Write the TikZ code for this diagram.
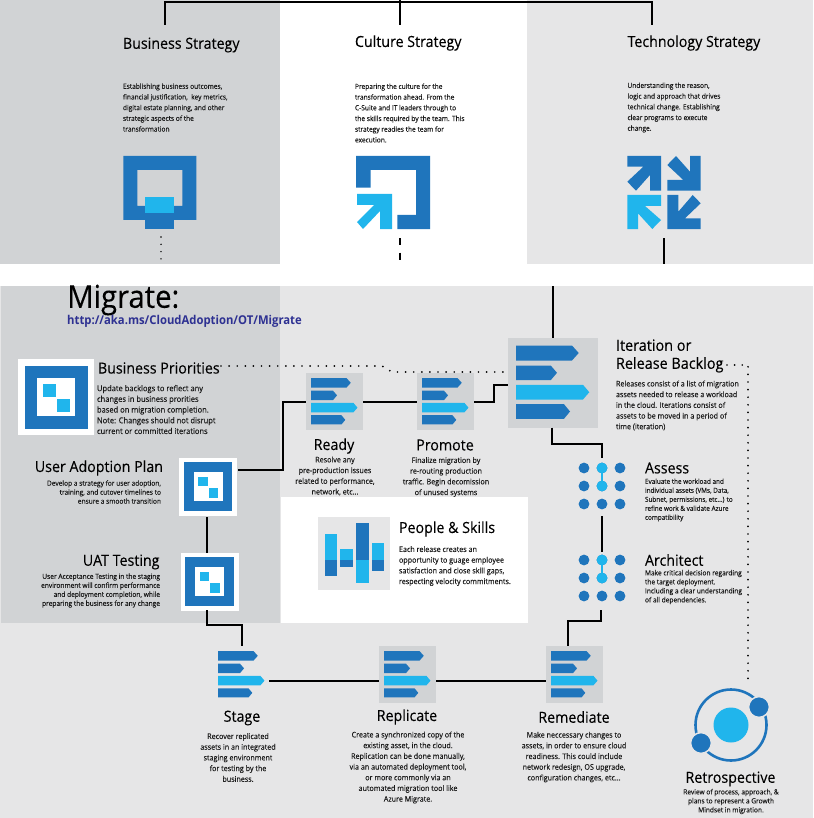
\documentclass[tikz,border=0pt]{standalone}
\usepackage{fontspec}
\setmainfont[FakeStretch=.93,FakeBold=.12]{Open Sans}
\newfontfamily\urlfont[FakeStretch=.93]{Open Sans}
\definecolor{dk}{HTML}{1F75BC}
\definecolor{lt}{HTML}{20B5EC}
\definecolor{pa}{HTML}{D1D3D5}
\definecolor{pb}{HTML}{E6E6E7}
\definecolor{urlc}{HTML}{2E3192}
\definecolor{bodyc}{HTML}{1A1A1A}
\newcommand\backlogicon[5]{% name, cx, cy, size, fill
  \node[minimum width=#4pt,minimum height=#4pt,inner sep=0pt,outer sep=0pt,fill=#5] (#1) at (#2,#3) {};
  \pgfmathsetmacro\bs{#4/90}
  \begin{scope}[shift={(#2,#3)},scale=\bs,shift={(-45,-45)}]
    \fill[dk] (8,8)--(64,8)--(70.7,15.5)--(64,23)--(8,23)--cycle;
    \fill[dk] (8,28)--(42.7,28)--(49,35.3)--(42.7,42.7)--(8,42.7)--cycle;
    \fill[lt] (8,47.3)--(75,47.3)--(81.3,54.7)--(75,62)--(8,62)--cycle;
    \fill[dk] (8,66.7)--(56,66.7)--(62,74)--(56,81.3)--(8,81.3)--cycle;
  \end{scope}}
\newcommand\priorityicon[4]{% name, cx, cy, white size
  \node[minimum size=#4pt,inner sep=0pt,outer sep=0pt,fill=white] (#1) at (#2,#3) {};
  \pgfmathsetmacro\bs{#4/76}
  \begin{scope}[shift={(#2,#3)},scale=\bs]
    \fill[dk] (-31.5,-31.5) rectangle (31.5,31.5);
    \fill[white] (-19,-19) rectangle (19,19);
    \fill[lt] (-13,-13) rectangle (-0.5,-0.5);
    \fill[lt] (1,2) rectangle (13.5,14.5);
  \end{scope}}
\newcommand\dotsicon[3]{% name, cx, cy
  \coordinate (#1) at (#2,#3);
  \begin{scope}[shift={(#2,#3)}]
    \foreach \i in {-18,0,18}{\foreach \j in {-18,0,18}{\fill[dk] (\i,\j) circle (5.4);}}
    \draw[lt,line width=1.6pt] (0,-18)--(0,0);
    \fill[lt] (0,-18) circle (5.4);
    \fill[lt] (0,0) circle (5.4);
  \end{scope}}
\tikzset{
  x=1pt,y=-1pt,
  conn/.style={line width=2pt,black,line join=miter},
  dotline/.style={line width=1.9pt,black,line cap=round,dash pattern=on 0pt off 7.6pt},
  title/.style={inner sep=0pt,outer sep=0pt,text=black,font=\fontsize{15.3}{17}\selectfont},
  body/.style={inner sep=0pt,outer sep=0pt,text=bodyc,font=\fontsize{7.1}{10.7}\selectfont},
  bodylg/.style={inner sep=0pt,outer sep=0pt,text=bodyc,font=\fontsize{7.7}{10.7}\selectfont},
  bodysm/.style={inner sep=0pt,outer sep=0pt,text=bodyc,font=\fontsize{7.1}{9}\selectfont},
}
\begin{document}
\begin{tikzpicture}
\useasboundingbox (0,0) rectangle (813,818);
% panels
\fill[white] (0,0) rectangle (813,818);
\fill[pa] (0,0) rectangle (280,264);
\fill[pb] (527,0) rectangle (813,264);
\fill[pb] (0,286) rectangle (813,818);
\fill[pa] (1,286) rectangle (280,623);
\fill[white] (281,497) rectangle (528,623);

% top icons
\fill[dk,even odd rule] (123.3,156) rectangle (196.3,220) (137.3,170) rectangle (182.3,206);
\fill[dk] (145.3,220) rectangle (173.7,229);
\fill[lt] (145.3,197.3) rectangle (173.7,212.7);
\fill[dk] (356,156)--(430,156)--(430,229)--(397.3,229)--(397.3,215)--(416,215)--(416,170)--(370.7,170)--(370.7,187.7)--(356,187.7)--cycle;
\fill[lt] (357,194)--(392,194)--(392,229)--(380,229)--(380,211)--(363,229)--(357,222)--(374,205)--(357,205)--cycle;
\fill[dk] (627.3,156)--(661,156)--(661,190.7)--(650,190.7)--(650,175)--(636,190.7)--(627.3,181.7)--(643.3,166.7)--(627.3,166.7)--cycle;
\fill[dk] (700.7,156)--(700.7,190.7)--(667.3,190.7)--(667.3,180)--(683.3,180)--(667.3,165)--(676,156)--(690,171.7)--(690,156)--cycle;
\fill[lt] (627.3,195)--(661,195)--(661,206)--(645,206)--(661,220)--(652.3,229)--(638,213.3)--(638,229)--(627.3,229)--cycle;
\fill[dk] (667.3,195)--(678.3,195)--(678.3,211.7)--(692.7,195)--(700.7,203.3)--(685,218.3)--(700.7,218.3)--(700.7,229)--(667.3,229)--cycle;

% top connectors
\coordinate (tl) at (165,2.5); \coordinate (tr) at (652,2.5);
\coordinate (tc) at (400,0); \coordinate (tcm) at (400,2.5);
\coordinate (bs) at (165,25); \coordinate (cs) at (400,25); \coordinate (ts) at (652,25);
\draw[conn] (bs)--(tl)--(tr)--(ts);
\draw[conn] (tc)--(cs);
\coordinate (bsa) at (161,237); \coordinate (bsb) at (161,262);
\draw[line width=1.6pt,line cap=round,dash pattern=on 0pt off 7.3pt] (bsa)--(bsb);
\coordinate (csa) at (400,238); \coordinate (csb) at (400,260);
\draw[line width=2pt,dash pattern=on 7pt off 7.5pt] (csa)--(csb);
\coordinate (tsa) at (664,238); \coordinate (tsb) at (664,264);
\draw[conn] (tsa)--(tsb);

% top texts
\node[title,anchor=west] (t1) at (123,45) {Business Strategy};
\node[title,anchor=west] (t2) at (355,43) {Culture Strategy};
\node[title,anchor=west] (t3) at (627.5,43) {Technology Strategy};
\node[body,anchor=west,align=left] (b1) at (123,107.5) {Establishing business outcomes,\\financial justification,\ \ key metrics,\\digital estate planning, and other\\strategic aspects of the\\transformation};
\node[body,anchor=west,align=left] (b2) at (355,113) {Preparing the culture for the\\transformation ahead. From the\\C-Suite and IT leaders through to\\the skills required by the team. This\\strategy readies the team for\\execution.};
\node[body,anchor=west,align=left] (b3) at (627.5,107.5) {Understanding the reason,\\logic and approach that drives\\technical change. Establishing\\clear programs to execute\\change.};

% Migrate heading
\node[inner sep=0pt,anchor=west,font=\fontsize{31.5}{34}\selectfont] (mig) at (67,300) {Migrate:};
\node[inner sep=0pt,anchor=west,text=urlc,font=\urlfont\bfseries\fontsize{12.15}{14}\selectfont] (url) at (67,321.5) {http://aka.ms/CloudAdoption/OT/Migrate};

% nodes of the migration loop
\backlogicon{ready}{334.5}{401.5}{57}{pa}
\backlogicon{promote}{445.5}{401.5}{57}{pa}
\backlogicon{backlog}{553}{382.5}{90}{pa}
\backlogicon{stage}{241.5}{674.5}{57}{pb}
\backlogicon{replicate}{407.5}{674.5}{57}{pa}
\backlogicon{remediate}{574.5}{674.5}{57}{pa}
\priorityicon{prio}{56}{397}{76}
\priorityicon{uap}{208}{486.5}{58}
\priorityicon{uat}{209.5}{581.5}{58}
\dotsicon{assess}{602}{486}
\dotsicon{architect}{602}{578}

% connectors
\coordinate (c1) at (238,470); \coordinate (c2) at (283,470); \coordinate (c3) at (283,402);
\draw[conn] (c1)--(c2)--(c3)--(ready.west |- c3);
\draw[conn] (ready.east |- c3)--(promote.west |- c3);
\coordinate (c4) at (494,402); \coordinate (c5) at (494,385);
\draw[conn] (promote.east |- c4)--(c4)--(c5)--(backlog.west |- c5);
\coordinate (c6) at (553,286);
\draw[conn] (c6)--(c6 |- backlog.north);
\coordinate (c7) at (552,443.5); \coordinate (c8) at (602,443.5); \coordinate (c9) at (602,458);
\draw[conn] (c7 |- backlog.south)--(c7)--(c8)--(c9);
\coordinate (c10) at (602,516); \coordinate (c11) at (602,552);
\draw[conn] (c10)--(c11);
\coordinate (c12) at (601,610); \coordinate (c13) at (601,620.5); \coordinate (c14) at (568,620.5);
\draw[conn] (c12)--(c13)--(c14)--(c14 |- remediate.north);
\coordinate (c15) at (207,517); \coordinate (c16) at (207,553);
\draw[conn] (c15)--(c16);
\coordinate (c17) at (207,610); \coordinate (c18) at (207,624.5); \coordinate (c19) at (242,624.5); \coordinate (c20) at (242,646);
\draw[conn] (c17)--(c18)--(c19)--(c20);
\coordinate (c21) at (269,681); \coordinate (c22) at (379,681);
\draw[conn] (c21)--(c22);
\draw[conn] (replicate.east |- c22)--(remediate.west |- c22);

% dotted feedback lines
\coordinate (d1) at (221,366); \coordinate (d2) at (382,366); \coordinate (d3) at (392,372); \coordinate (d4) at (508,372);
\draw[dotline,dash pattern=on 0pt off 8.1pt] (d1)--(d2)--(d3)--(d4);
\coordinate (d5) at (727,365); \coordinate (d6) at (748,365); \coordinate (d7) at (748,679);
\draw[dotline] (d5)--(d6)--(d7);

% people & skills
\node[minimum width=72pt,minimum height=72.5pt,inner sep=0pt,fill=pb] (people) at (354,553.5) {};
\fill[lt] (324.5,534) rectangle (337,560); \fill[dk] (324.5,560) rectangle (337,576);
\fill[lt] (340,549) rectangle (353,560);   \fill[dk] (340,560) rectangle (353,566.5);
\fill[dk] (356,523) rectangle (368.5,560); \fill[lt] (356,560) rectangle (368.5,583);
\fill[lt] (371.5,543) rectangle (384,560); \fill[dk] (371.5,560) rectangle (384,571);

% retrospective
\coordinate (retro) at (731,725);
\draw[dk,line width=2.6pt] (retro) circle (35.5);
\fill[lt] (retro) circle (17.5);
\fill[dk,draw=pb,line width=1.5pt] (759,707) circle (10.4);
\fill[dk,draw=pb,line width=1.5pt] (701,743) circle (10.4);

% migration texts
\node[title,anchor=west] (tp) at (98,368) {Business Priorities};
\node[bodylg,anchor=west,align=left,font=\fontsize{8.1}{10.7}\selectfont] (bp) at (97,409.5) {Update backlogs to reflect any\\changes in business prorities\\based on migration completion.\\Note: Changes should not disrupt\\current or committed iterations};
\node[title,anchor=east] (tu) at (163,468) {User Adoption Plan};
\node[bodysm,anchor=east,align=right] (bu) at (161,492) {Develop a strategy for user adoption,\\training, and cutover timelines to\\ensure a smooth transition};
\node[title,anchor=east] (tt) at (159.5,562) {UAT Testing};
\node[bodysm,anchor=east,align=right] (bt) at (160,590.5) {User Acceptance Testing in the staging\\environment will confirm performance\\and deployment completion, while\\preparing the business for any change};
\node[title] (tr1) at (334,446) {Ready};
\node[bodylg,align=center] (br1) at (335,476) {Resolve any\\pre-production issues\\related to performance,\\network, etc...};
\node[title] (tr2) at (445,445) {Promote};
\node[bodylg,align=center] (br2) at (446,477) {Finalize migration by\\re-routing production\\traffic. Begin decomission\\of unused systems};
\node[title,anchor=west] (tps) at (399,529) {People \& Skills};
\node[bodylg,anchor=west,align=left] (bps) at (399,566) {Each release creates an\\opportunity to guage employee\\satisfaction and close skill gaps,\\respecting velocity commitments.};
\node[title,anchor=west,align=left,font=\fontsize{15.5}{18}\selectfont] (tib) at (616,356) {Iteration or\\Release Backlog};
\node[bodylg,anchor=west,align=left] (bib) at (616,405.5) {Releases consist of a list of migration\\assets needed to release a workload\\in the cloud. Iterations consist of\\assets to be moved in a period of\\time (iteration)};
\node[title,anchor=west] (ta) at (645,468) {Assess};
\node[bodysm,anchor=west,align=left,font=\fontsize{6.85}{9}\selectfont] (ba) at (645,500) {Evaluate the workload and\\individual assets (VMs, Data,\\Subnet, permissions, etc...) to\\refine work \& validate Azure\\compatibility};
\node[title,anchor=west] (tar) at (645,560) {Architect};
\node[bodysm,anchor=west,align=left] (bar) at (645,587) {Make critical decision regarding\\the target deployment.\\Including a clear understanding\\of all dependencies.};
\node[title] (ts1) at (242,718) {Stage};
\node[bodylg,align=center] (bs1) at (238,757.5) {Recover replicated\\assets in an integrated\\staging environment\\for testing by the\\business.};
\node[title] (ts2) at (407,717) {Replicate};
\node[bodylg,align=center] (bs2) at (408,767.5) {Create a synchronized copy of the\\existing asset, in the cloud.\\Replication can be done manually,\\via an automated deployment tool,\\or more commonly via an\\automated migration tool like\\Azure Migrate.};
\node[title] (ts3) at (574,717) {Remediate};
\node[bodylg,align=center] (bs3) at (574,757) {Make neccessary changes to\\assets, in order to ensure cloud\\readiness. This could include\\network redesign, OS upgrade,\\configuration changes, etc...};
\node[title] (ts4) at (730.5,779) {Retrospective};
\node[bodysm,align=center] (bs4) at (731,801.5) {Review of process, approach, \&\\plans to represent a Growth\\Mindset in migration.};
\end{tikzpicture}
\end{document}
